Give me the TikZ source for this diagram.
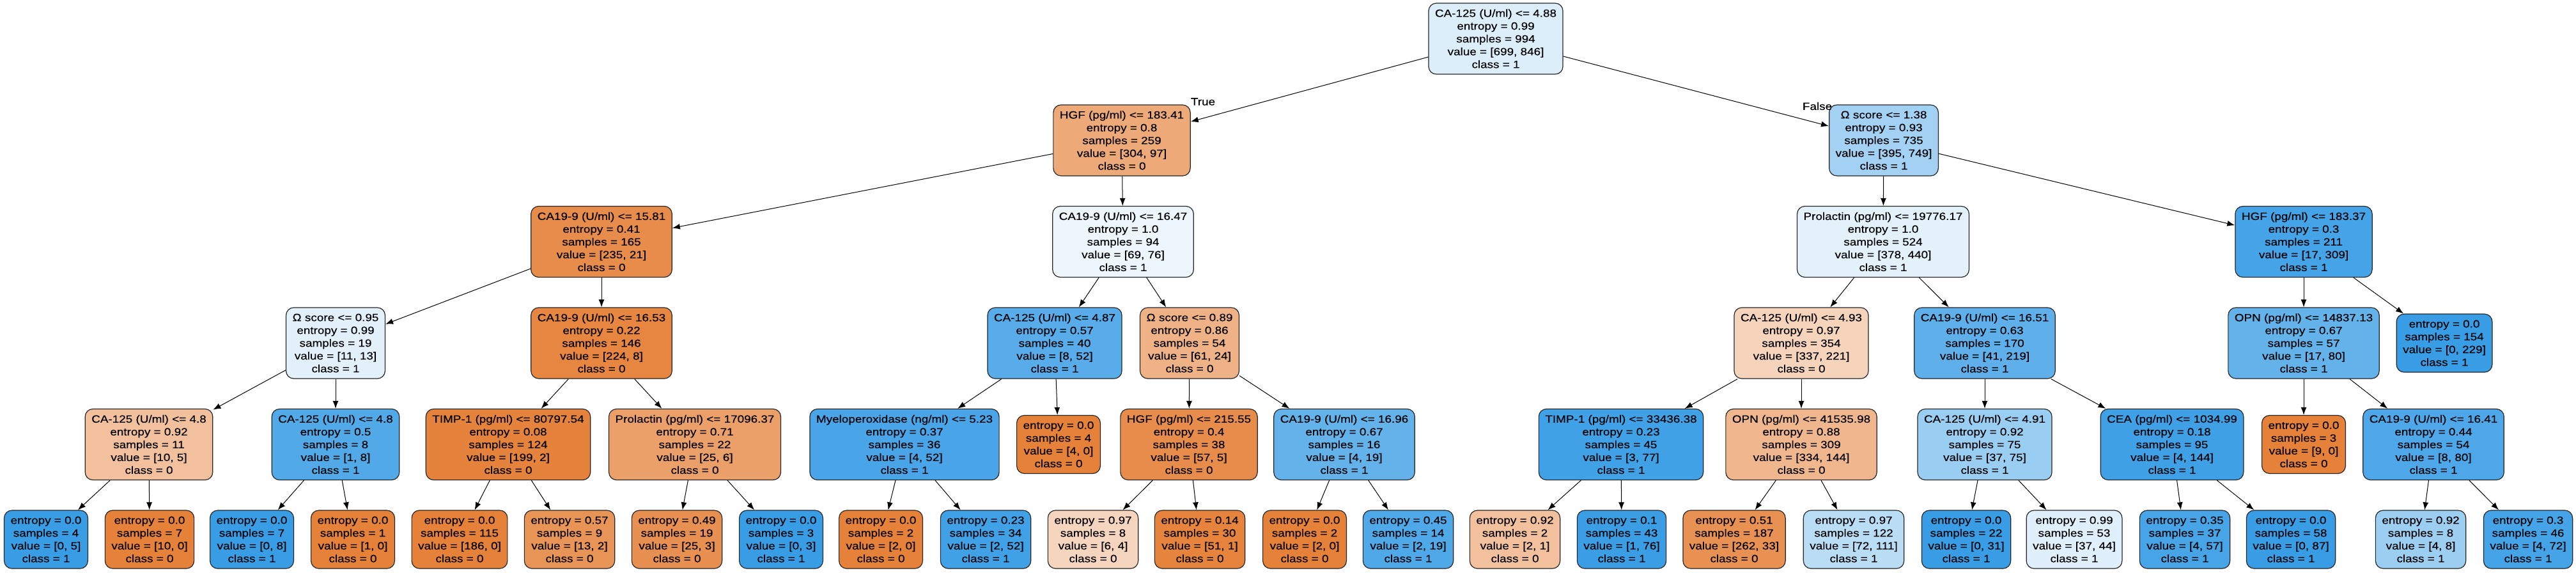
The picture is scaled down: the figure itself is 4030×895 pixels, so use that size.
\documentclass[tikz,border=0pt]{standalone}
\usepackage{fontspec}
\newfontfamily\treefont{Liberation Sans}[FakeStretch=1.145,FakeBold=0.3]
\usetikzlibrary{arrows.meta}

\definecolor{clszero}{RGB}{229,129,57}
\definecolor{clsone}{RGB}{57,157,229}

\tikzset{
  treenode/.style={draw=black!85, line width=1.2pt, rounded corners=12pt, align=center,
    inner xsep=10pt, inner ysep=3pt, minimum height=111pt,
    font=\treefont\fontsize{16.5}{20}\selectfont},
  treeleaf/.style={treenode, minimum height=91pt},
  branch/.style={->, line width=1pt},
  branchlbl/.style={font=\treefont\fontsize{16.5}{20}\selectfont, inner sep=0pt}
}

\begin{document}
\begin{tikzpicture}[x=1pt,y=-1pt,>={Latex[length=12pt,width=9pt]}]
                \path[fill=white] (0,0) rectangle (4030,895);

                % depth 0 and 1
                \node[treenode,fill=clsone!17] (root) at (2340,60.5) {CA-125 (U/ml) <= 4.88\\entropy = 0.99\\samples = 994\\value = [699, 846]\\class = 1};
                \node[treenode,fill=clszero!68] (hgfa) at (1755,219.5) {HGF (pg/ml) <= 183.41\\entropy = 0.8\\samples = 259\\value = [304, 97]\\class = 0};
                \node[treenode,fill=clsone!47] (omegaa) at (2947,219.5) {Ω score <= 1.38\\entropy = 0.93\\samples = 735\\value = [395, 749]\\class = 1};
                \node[branchlbl] (lbltrue) at (1882,159) {True};
                \node[branchlbl] (lblfalse) at (2843,166) {False};

                % depth 2
                \node[treenode,fill=clszero!91] (caa) at (941,378) {CA19-9 (U/ml) <= 15.81\\entropy = 0.41\\samples = 165\\value = [235, 21]\\class = 0};
                \node[treenode,fill=clsone!9] (cab) at (1757,378) {CA19-9 (U/ml) <= 16.47\\entropy = 1.0\\samples = 94\\value = [69, 76]\\class = 1};
                \node[treenode,fill=clsone!14] (prola) at (2946,378) {Prolactin (pg/ml) <= 19776.17\\entropy = 1.0\\samples = 524\\value = [378, 440]\\class = 1};
                \node[treenode,fill=clsone!94] (hgfb) at (3604,378) {HGF (pg/ml) <= 183.37\\entropy = 0.3\\samples = 211\\value = [17, 309]\\class = 1};

                % depth 3
                \node[treenode,fill=clsone!15] (omb) at (525,536.5) {Ω score <= 0.95\\entropy = 0.99\\samples = 19\\value = [11, 13]\\class = 1};
                \node[treenode,fill=clszero!96] (cac) at (941,536.5) {CA19-9 (U/ml) <= 16.53\\entropy = 0.22\\samples = 146\\value = [224, 8]\\class = 0};
                \node[treenode,fill=clsone!85] (cb) at (1650,536.5) {CA-125 (U/ml) <= 4.87\\entropy = 0.57\\samples = 40\\value = [8, 52]\\class = 1};
                \node[treenode,fill=clszero!61] (omc) at (1861,536.5) {Ω score <= 0.89\\entropy = 0.86\\samples = 54\\value = [61, 24]\\class = 0};
                \node[treenode,fill=clszero!34] (cc) at (2818,536.5) {CA-125 (U/ml) <= 4.93\\entropy = 0.97\\samples = 354\\value = [337, 221]\\class = 0};
                \node[treenode,fill=clsone!81] (cad) at (3105,536.5) {CA19-9 (U/ml) <= 16.51\\entropy = 0.63\\samples = 170\\value = [41, 219]\\class = 1};
                \node[treenode,fill=clsone!79] (opna) at (3604,536.5) {OPN (pg/ml) <= 14837.13\\entropy = 0.67\\samples = 57\\value = [17, 80]\\class = 1};
                \node[treeleaf,fill=clsone] (lfa) at (3824,536.5) {entropy = 0.0\\samples = 154\\value = [0, 229]\\class = 1};

                % depth 4
                \node[treenode,fill=clszero!50] (cd) at (233,695) {CA-125 (U/ml) <= 4.8\\entropy = 0.92\\samples = 11\\value = [10, 5]\\class = 0};
                \node[treenode,fill=clsone!88] (ce) at (525,695) {CA-125 (U/ml) <= 4.8\\entropy = 0.5\\samples = 8\\value = [1, 8]\\class = 1};
                \node[treenode,fill=clszero!99] (timpa) at (795,695) {TIMP-1 (pg/ml) <= 80797.54\\entropy = 0.08\\samples = 124\\value = [199, 2]\\class = 0};
                \node[treenode,fill=clszero!76] (prolb) at (1087,695) {Prolactin (pg/ml) <= 17096.37\\entropy = 0.71\\samples = 22\\value = [25, 6]\\class = 0};
                \node[treenode,fill=clsone!92] (mpo) at (1415,695) {Myeloperoxidase (ng/ml) <= 5.23\\entropy = 0.37\\samples = 36\\value = [4, 52]\\class = 1};
                \node[treeleaf,fill=clszero] (lfb) at (1656,695) {entropy = 0.0\\samples = 4\\value = [4, 0]\\class = 0};
                \node[treenode,fill=clszero!91] (hgfc) at (1860,695) {HGF (pg/ml) <= 215.55\\entropy = 0.4\\samples = 38\\value = [57, 5]\\class = 0};
                \node[treenode,fill=clsone!79] (cae) at (2103,695) {CA19-9 (U/ml) <= 16.96\\entropy = 0.67\\samples = 16\\value = [4, 19]\\class = 1};
                \node[treenode,fill=clsone!96] (timpb) at (2536,695) {TIMP-1 (pg/ml) <= 33436.38\\entropy = 0.23\\samples = 45\\value = [3, 77]\\class = 1};
                \node[treenode,fill=clszero!57] (opnb) at (2818,695) {OPN (pg/ml) <= 41535.98\\entropy = 0.88\\samples = 309\\value = [334, 144]\\class = 0};
                \node[treenode,fill=clsone!51] (cf) at (3105,695) {CA-125 (U/ml) <= 4.91\\entropy = 0.92\\samples = 75\\value = [37, 75]\\class = 1};
                \node[treenode,fill=clsone!97] (cea) at (3398,695) {CEA (pg/ml) <= 1034.99\\entropy = 0.18\\samples = 95\\value = [4, 144]\\class = 1};
                \node[treeleaf,fill=clszero] (lfc) at (3604,695) {entropy = 0.0\\samples = 3\\value = [9, 0]\\class = 0};
                \node[treenode,fill=clsone!90] (caf) at (3807,695) {CA19-9 (U/ml) <= 16.41\\entropy = 0.44\\samples = 54\\value = [8, 80]\\class = 1};

                % depth 5
                \node[treeleaf,fill=clsone] (l1) at (72,843.5) {entropy = 0.0\\samples = 4\\value = [0, 5]\\class = 1};
                \node[treeleaf,fill=clszero] (l2) at (234,843.5) {entropy = 0.0\\samples = 7\\value = [10, 0]\\class = 0};
                \node[treeleaf,fill=clsone] (l3) at (394,843.5) {entropy = 0.0\\samples = 7\\value = [0, 8]\\class = 1};
                \node[treeleaf,fill=clszero] (l4) at (552,843.5) {entropy = 0.0\\samples = 1\\value = [1, 0]\\class = 0};
                \node[treeleaf,fill=clszero] (l5) at (719,843.5) {entropy = 0.0\\samples = 115\\value = [186, 0]\\class = 0};
                \node[treeleaf,fill=clszero!85] (l6) at (891,843.5) {entropy = 0.57\\samples = 9\\value = [13, 2]\\class = 0};
                \node[treeleaf,fill=clszero!88] (l7) at (1059,843.5) {entropy = 0.49\\samples = 19\\value = [25, 3]\\class = 0};
                \node[treeleaf,fill=clsone] (l8) at (1222,843.5) {entropy = 0.0\\samples = 3\\value = [0, 3]\\class = 1};
                \node[treeleaf,fill=clszero] (l9) at (1378,843.5) {entropy = 0.0\\samples = 2\\value = [2, 0]\\class = 0};
                \node[treeleaf,fill=clsone!96] (l10) at (1542,843.5) {entropy = 0.23\\samples = 34\\value = [2, 52]\\class = 1};
                \node[treeleaf,fill=clszero!33] (l11) at (1710,843.5) {entropy = 0.97\\samples = 8\\value = [6, 4]\\class = 0};
                \node[treeleaf,fill=clszero!98] (l12) at (1877,843.5) {entropy = 0.14\\samples = 30\\value = [51, 1]\\class = 0};
                \node[treeleaf,fill=clszero] (l13) at (2041,843.5) {entropy = 0.0\\samples = 2\\value = [2, 0]\\class = 0};
                \node[treeleaf,fill=clsone!89] (l14) at (2203,843.5) {entropy = 0.45\\samples = 14\\value = [2, 19]\\class = 1};
                \node[treeleaf,fill=clszero!50] (l15) at (2370,843.5) {entropy = 0.92\\samples = 2\\value = [2, 1]\\class = 0};
                \node[treeleaf,fill=clsone!99] (l16) at (2537,843.5) {entropy = 0.1\\samples = 43\\value = [1, 76]\\class = 1};
                \node[treeleaf,fill=clszero!87] (l17) at (2713,843.5) {entropy = 0.51\\samples = 187\\value = [262, 33]\\class = 0};
                \node[treeleaf,fill=clsone!35] (l18) at (2900,843.5) {entropy = 0.97\\samples = 122\\value = [72, 111]\\class = 1};
                \node[treeleaf,fill=clsone] (l19) at (3076,843.5) {entropy = 0.0\\samples = 22\\value = [0, 31]\\class = 1};
                \node[treeleaf,fill=clsone!16] (l20) at (3245,843.5) {entropy = 0.99\\samples = 53\\value = [37, 44]\\class = 1};
                \node[treeleaf,fill=clsone!93] (l21) at (3418,843.5) {entropy = 0.35\\samples = 37\\value = [4, 57]\\class = 1};
                \node[treeleaf,fill=clsone] (l22) at (3584,843.5) {entropy = 0.0\\samples = 58\\value = [0, 87]\\class = 1};
                \node[treeleaf,fill=clsone!50] (l23) at (3787,843.5) {entropy = 0.92\\samples = 8\\value = [4, 8]\\class = 1};
                \node[treeleaf,fill=clsone!94] (l24) at (3955,843.5) {entropy = 0.3\\samples = 46\\value = [4, 72]\\class = 1};

                % branches
                \draw[branch] (root) -- (hgfa); \draw[branch] (root) -- (omegaa);
                \draw[branch] (hgfa) -- (caa); \draw[branch] (hgfa) -- (cab);
                \draw[branch] (omegaa) -- (prola); \draw[branch] (omegaa) -- (hgfb);
                \draw[branch] (caa) -- (omb); \draw[branch] (caa) -- (cac);
                \draw[branch] (cab) -- (cb); \draw[branch] (cab) -- (omc);
                \draw[branch] (prola) -- (cc); \draw[branch] (prola) -- (cad);
                \draw[branch] (hgfb) -- (opna); \draw[branch] (hgfb) -- (lfa);
                \draw[branch] (omb) -- (cd); \draw[branch] (omb) -- (ce);
                \draw[branch] (cac) -- (timpa); \draw[branch] (cac) -- (prolb);
                \draw[branch] (cb) -- (mpo); \draw[branch] (cb) -- (lfb);
                \draw[branch] (omc) -- (hgfc); \draw[branch] (omc) -- (cae);
                \draw[branch] (cc) -- (timpb); \draw[branch] (cc) -- (opnb);
                \draw[branch] (cad) -- (cf); \draw[branch] (cad) -- (cea);
                \draw[branch] (opna) -- (lfc); \draw[branch] (opna) -- (caf);
                \draw[branch] (cd) -- (l1); \draw[branch] (cd) -- (l2);
                \draw[branch] (ce) -- (l3); \draw[branch] (ce) -- (l4);
                \draw[branch] (timpa) -- (l5); \draw[branch] (timpa) -- (l6);
                \draw[branch] (prolb) -- (l7); \draw[branch] (prolb) -- (l8);
                \draw[branch] (mpo) -- (l9); \draw[branch] (mpo) -- (l10);
                \draw[branch] (hgfc) -- (l11); \draw[branch] (hgfc) -- (l12);
                \draw[branch] (cae) -- (l13); \draw[branch] (cae) -- (l14);
                \draw[branch] (timpb) -- (l15); \draw[branch] (timpb) -- (l16);
                \draw[branch] (opnb) -- (l17); \draw[branch] (opnb) -- (l18);
                \draw[branch] (cf) -- (l19); \draw[branch] (cf) -- (l20);
                \draw[branch] (cea) -- (l21); \draw[branch] (cea) -- (l22);
                \draw[branch] (caf) -- (l23); \draw[branch] (caf) -- (l24);

                \useasboundingbox (0,0) rectangle (4030,895);
            \end{tikzpicture}
\end{document}
